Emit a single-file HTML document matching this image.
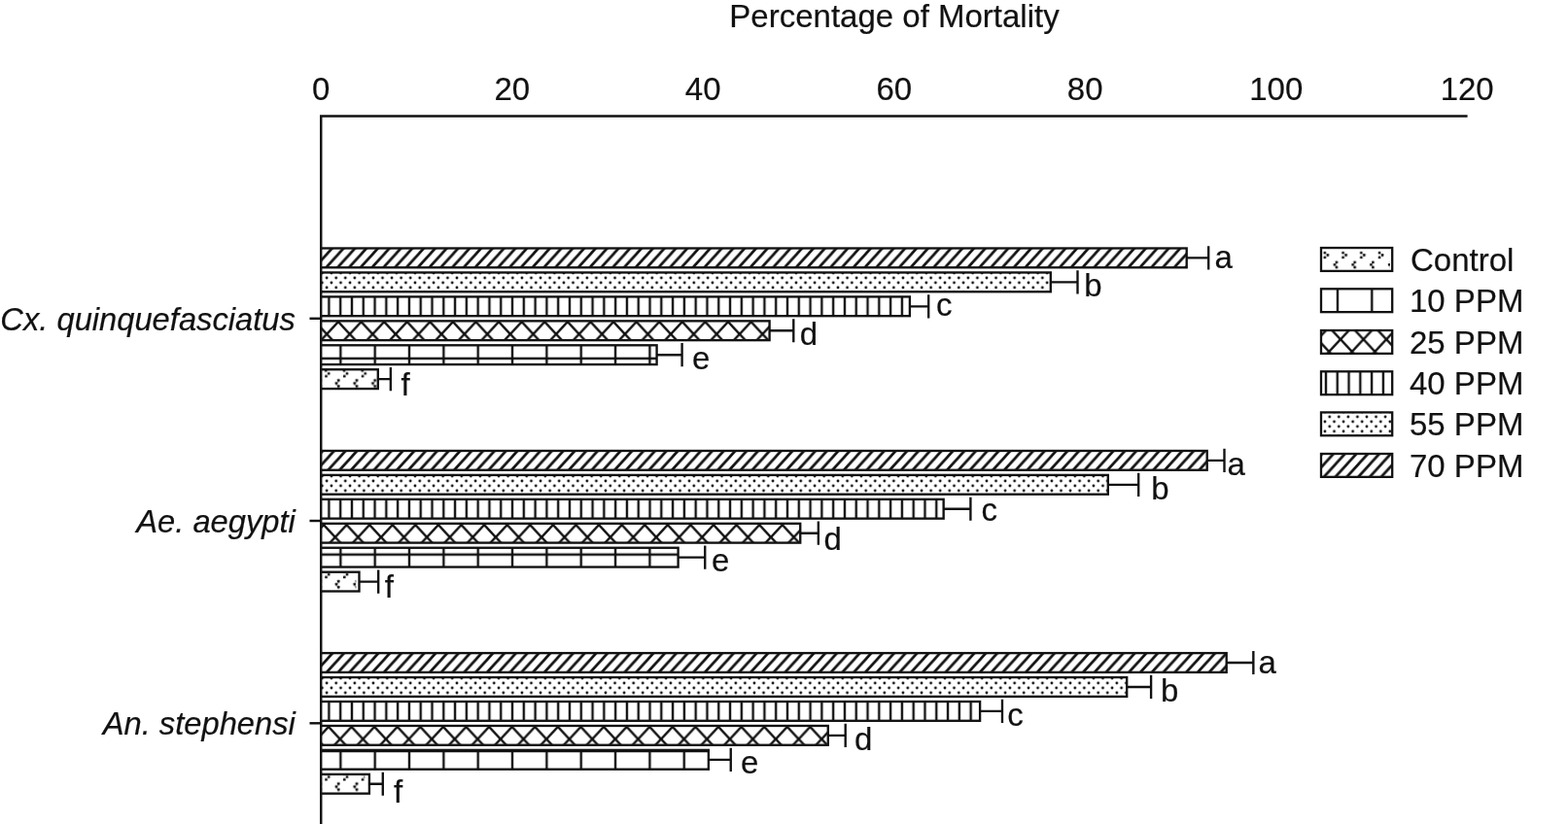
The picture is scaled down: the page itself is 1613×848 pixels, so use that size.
<!DOCTYPE html>
<html lang="en">
<head>
<meta charset="utf-8">
<title>Percentage of Mortality</title>
<style>
html,body{margin:0;padding:0;background:#fff;}
body{width:1613px;height:848px;overflow:hidden;}
svg{display:block;}
text{font-family:"Liberation Sans", Arial, Helvetica, sans-serif;font-size:33px;fill:#111111;stroke:#111111;stroke-width:0.2px;}
.it{font-style:italic;font-size:32.7px;}
.ln{stroke:#111111;stroke-width:2.45;fill:none;}
.bar{stroke:#111111;stroke-width:2.35;}
.eb{stroke:#111111;stroke-width:2.35;fill:none;}
</style>
</head>
<body>
<svg width="1613" height="848" viewBox="0 0 1613 848">
<defs>
<pattern id="p70" patternUnits="userSpaceOnUse" width="11.790" height="13.003"><rect width="11.790" height="13.003" fill="#fff"/><path d="M-11.790,13.003 L11.790,-13.003 M-11.790,26.005 L23.580,-13.003 M0,26.005 L23.580,0" stroke="#111111" stroke-width="2.7" fill="none"/></pattern>
<pattern id="p55" patternUnits="userSpaceOnUse" width="9.561" height="9.95"><rect width="9.561" height="9.95" fill="#fff"/><g fill="#111111"><circle cx="0.000" cy="0.000" r="1.4"/><circle cx="9.561" cy="0.000" r="1.4"/><circle cx="0.000" cy="9.950" r="1.4"/><circle cx="9.561" cy="9.950" r="1.4"/><circle cx="4.780" cy="4.975" r="1.4"/></g></pattern>
<pattern id="p40" patternUnits="userSpaceOnUse" width="11.79" height="40"><rect width="11.79" height="40" fill="#fff"/><path d="M0,-1 V41 M11.79,-1 V41" stroke="#111111" stroke-width="2.4" fill="none"/></pattern>
<pattern id="p25" patternUnits="userSpaceOnUse" width="23.590" height="25.297"><rect width="23.590" height="25.297" fill="#fff"/><path d="M-23.590,-25.297 L47.180,50.594 M-23.590,50.594 L47.180,-25.297" stroke="#111111" stroke-width="2.45" fill="none"/></pattern>
<pattern id="p10" patternUnits="userSpaceOnUse" width="35.34" height="33.63"><rect width="35.34" height="33.63" fill="#fff"/><path d="M0,-1 V34.63 M35.34,-1 V34.63 M-1,0 H36.34 M-1,33.63 H36.34" stroke="#111111" stroke-width="2.4" fill="none"/></pattern>
<pattern id="pc" patternUnits="userSpaceOnUse" width="18.75" height="24.0"><rect width="18.75" height="24.0" fill="#fff"/><g fill="#111111"><rect x="0.70" y="0.70" width="2.6" height="2.6" rx="0.4"/><rect x="3.70" y="3.10" width="2.6" height="2.6" rx="0.4"/><rect x="0.70" y="5.50" width="2.6" height="2.6" rx="0.4"/><rect x="12.80" y="10.40" width="2.6" height="2.6" rx="0.4"/><rect x="10.80" y="13.00" width="2.6" height="2.6" rx="0.4"/><rect x="12.80" y="15.60" width="2.6" height="2.6" rx="0.4"/></g></pattern>
<pattern id="pcb" patternUnits="userSpaceOnUse" width="18.75" height="24.0"><rect width="18.75" height="24.0" fill="#fff"/><g fill="#111111"><rect x="0.70" y="0.70" width="2.6" height="2.6" rx="0.4"/><rect x="3.70" y="3.70" width="2.6" height="2.6" rx="0.4"/><rect x="1.00" y="6.50" width="2.6" height="2.6" rx="0.4"/><rect x="13.70" y="10.80" width="2.6" height="2.6" rx="0.4"/><rect x="11.50" y="13.80" width="2.6" height="2.6" rx="0.4"/><rect x="13.70" y="16.80" width="2.6" height="2.6" rx="0.4"/></g></pattern>
<pattern id="p70g1" href="#p70" patternTransform="translate(6.68,0.82)"/>
<pattern id="p55g1" href="#p55" patternTransform="translate(1.53,7.36)"/>
<pattern id="p40g1" href="#p40" patternTransform="translate(8.28,0.00)"/>
<pattern id="p25g1" href="#p25" patternTransform="translate(5.94,14.94)"/>
<pattern id="p10g1" href="#p10" patternTransform="translate(32.29,32.60)"/>
<pattern id="pcg1" href="#pcb" patternTransform="translate(14.50,19.40)"/>
<pattern id="p70g2" href="#p70" patternTransform="translate(8.26,1.78)"/>
<pattern id="p55g2" href="#p55" patternTransform="translate(1.53,7.41)"/>
<pattern id="p40g2" href="#p40" patternTransform="translate(8.28,0.00)"/>
<pattern id="p25g2" href="#p25" patternTransform="translate(14.54,21.56)"/>
<pattern id="p10g2" href="#p10" patternTransform="translate(32.29,32.62)"/>
<pattern id="pcg2" href="#pcb" patternTransform="translate(14.50,10.20)"/>
<pattern id="p70g3" href="#p70" patternTransform="translate(6.84,1.73)"/>
<pattern id="p55g3" href="#p55" patternTransform="translate(1.53,6.46)"/>
<pattern id="p40g3" href="#p40" patternTransform="translate(8.28,0.00)"/>
<pattern id="p25g3" href="#p25" patternTransform="translate(19.54,1.68)"/>
<pattern id="p10g3" href="#p10" patternTransform="translate(32.29,33.14)"/>
<pattern id="pcg3" href="#pcb" patternTransform="translate(14.50,2.50)"/>
<pattern id="p70L" href="#p70" patternTransform="translate(6.71,9.04)"/>
<pattern id="p55L" href="#p55" patternTransform="translate(5.29,6.07)"/>
<pattern id="p40L" href="#p40" patternTransform="translate(8.10,0.00)"/>
<pattern id="p25L" href="#p25" patternTransform="translate(10.78,20.39)"/>
<pattern id="p10L" href="#p10" patternTransform="translate(33.03,20.96)"/>
<pattern id="pcL" href="#pc" patternTransform="translate(10.83,18.18)"/>
</defs>
<rect width="1613" height="848" fill="#fff"/>
<text x="920" y="28.3" text-anchor="middle">Percentage of Mortality</text>
<text x="330.2" y="102.8" text-anchor="middle">0</text>
<text x="526.8" y="102.8" text-anchor="middle">20</text>
<text x="723.2" y="102.8" text-anchor="middle">40</text>
<text x="919.8" y="102.8" text-anchor="middle">60</text>
<text x="1116.2" y="102.8" text-anchor="middle">80</text>
<text x="1312.8" y="102.8" text-anchor="middle">100</text>
<text x="1509.2" y="102.8" text-anchor="middle">120</text>
<path class="ln" d="M330.25,849 V119.55 H1509.6"/>
<path class="ln" d="M318.5,327.8 H330.25"/>
<text class="it" x="303.8" y="339.7" text-anchor="end">Cx. quinquefasciatus</text>
<rect class="bar" x="330.25" y="255.50" width="890.45" height="19.8" fill="url(#p70g1)"/>
<path class="eb" d="M1220.7,265.40 H1243.2 M1243.2,253.30 V277.50"/>
<text x="1249.6" y="275.7">a</text>
<rect class="bar" x="330.25" y="280.45" width="750.55" height="19.8" fill="url(#p55g1)"/>
<path class="eb" d="M1080.8,290.35 H1108.5 M1108.5,278.25 V302.45"/>
<text x="1115.2" y="305.3">b</text>
<rect class="bar" x="330.25" y="305.40" width="605.65" height="19.8" fill="url(#p40g1)"/>
<path class="eb" d="M935.9,315.30 H955.2 M955.2,303.20 V327.40"/>
<text x="963.0" y="325.3">c</text>
<rect class="bar" x="330.25" y="330.35" width="461.35" height="19.8" fill="url(#p25g1)"/>
<path class="eb" d="M791.6,340.25 H816.3 M816.3,328.15 V352.35"/>
<text x="822.7" y="354.5">d</text>
<rect class="bar" x="330.25" y="355.30" width="345.35" height="19.8" fill="url(#p10g1)"/>
<path class="eb" d="M675.6,365.20 H701.6 M701.6,353.10 V377.30"/>
<text x="711.9" y="379.5">e</text>
<rect class="bar" x="330.25" y="380.25" width="58.55" height="19.8" fill="url(#pcg1)"/>
<path class="eb" d="M388.8,390.15 H401.85 M401.85,378.05 V402.25"/>
<text x="412.5" y="407.0">f</text>
<path class="ln" d="M318.5,536.0 H330.25"/>
<text class="it" x="303.8" y="547.9" text-anchor="end">Ae. aegypti</text>
<rect class="bar" x="330.25" y="463.95" width="911.45" height="19.8" fill="url(#p70g2)"/>
<path class="eb" d="M1241.7,473.85 H1259.5 M1259.5,461.75 V485.95"/>
<text x="1262.6" y="488.8">a</text>
<rect class="bar" x="330.25" y="488.90" width="809.55" height="19.8" fill="url(#p55g2)"/>
<path class="eb" d="M1139.8,498.80 H1171.2 M1171.2,486.70 V510.90"/>
<text x="1184.2" y="513.8">b</text>
<rect class="bar" x="330.25" y="513.85" width="640.40" height="19.8" fill="url(#p40g2)"/>
<path class="eb" d="M970.65,523.75 H998.4 M998.4,511.65 V535.85"/>
<text x="1009.6" y="536.0">c</text>
<rect class="bar" x="330.25" y="538.80" width="493.00" height="19.8" fill="url(#p25g2)"/>
<path class="eb" d="M823.25,548.70 H841.85 M841.85,536.60 V560.80"/>
<text x="847.4" y="565.5">d</text>
<rect class="bar" x="330.25" y="563.75" width="367.35" height="19.8" fill="url(#p10g2)"/>
<path class="eb" d="M697.6,573.65 H725.25 M725.25,561.55 V585.75"/>
<text x="731.9" y="588.0">e</text>
<rect x="330.25" y="588.70" width="36.05" height="19.8" fill="url(#pcg2)"/>
<rect class="bar" x="330.25" y="588.70" width="39.25" height="19.8" fill="none"/>
<path class="eb" d="M369.5,598.60 H389.2 M389.2,586.50 V610.70"/>
<text x="395.8" y="615.3">f</text>
<path class="ln" d="M318.5,744.3 H330.25"/>
<text class="it" x="303.8" y="756.2" text-anchor="end">An. stephensi</text>
<rect class="bar" x="330.25" y="672.10" width="931.45" height="19.8" fill="url(#p70g3)"/>
<path class="eb" d="M1261.7,682.00 H1289.35 M1289.35,669.90 V694.10"/>
<text x="1294.5" y="692.6">a</text>
<rect class="bar" x="330.25" y="697.05" width="828.95" height="19.8" fill="url(#p55g3)"/>
<path class="eb" d="M1159.2,706.95 H1184.1 M1184.1,694.85 V719.05"/>
<text x="1194.1" y="722.1">b</text>
<rect class="bar" x="330.25" y="722.00" width="677.85" height="19.8" fill="url(#p40g3)"/>
<path class="eb" d="M1008.1,731.90 H1031.0 M1031.0,719.80 V744.00"/>
<text x="1036.3" y="747.0">c</text>
<rect class="bar" x="330.25" y="746.95" width="521.55" height="19.8" fill="url(#p25g3)"/>
<path class="eb" d="M851.8,756.85 H869.7 M869.7,744.75 V768.95"/>
<text x="879.1" y="772.0">d</text>
<rect class="bar" x="330.25" y="771.90" width="398.60" height="19.8" fill="url(#p10g3)"/>
<path class="eb" d="M728.85,781.80 H751.75 M751.75,769.70 V793.90"/>
<text x="761.9" y="796.4">e</text>
<rect x="330.25" y="796.85" width="45.05" height="19.8" fill="url(#pcg3)"/>
<rect class="bar" x="330.25" y="796.85" width="49.65" height="19.8" fill="none"/>
<path class="eb" d="M379.9,806.75 H393.8 M393.8,794.65 V818.85"/>
<text x="405.1" y="825.9">f</text>
<rect x="1359" y="255.05" width="71" height="23.85" fill="url(#pcL)"/>
<rect class="bar" style="stroke-width:2.3" x="1359" y="255.05" width="73.2" height="23.85" fill="none"/>
<text x="1451" y="278.7">Control</text>
<rect class="bar" style="stroke-width:2.3" x="1359" y="297.30" width="73.2" height="23.85" fill="url(#p10L)"/>
<text x="1450" y="320.9">10 PPM</text>
<rect class="bar" style="stroke-width:2.3" x="1359" y="340.00" width="73.2" height="23.85" fill="url(#p25L)"/>
<text x="1450" y="363.6">25 PPM</text>
<rect class="bar" style="stroke-width:2.3" x="1359" y="382.30" width="73.2" height="23.85" fill="url(#p40L)"/>
<text x="1450" y="405.9">40 PPM</text>
<rect class="bar" style="stroke-width:2.3" x="1359" y="424.40" width="73.2" height="23.85" fill="url(#p55L)"/>
<text x="1450" y="448.0">55 PPM</text>
<rect class="bar" style="stroke-width:2.3" x="1359" y="467.00" width="73.2" height="23.85" fill="url(#p70L)"/>
<text x="1450" y="490.6">70 PPM</text>
</svg>
</body>
</html>
